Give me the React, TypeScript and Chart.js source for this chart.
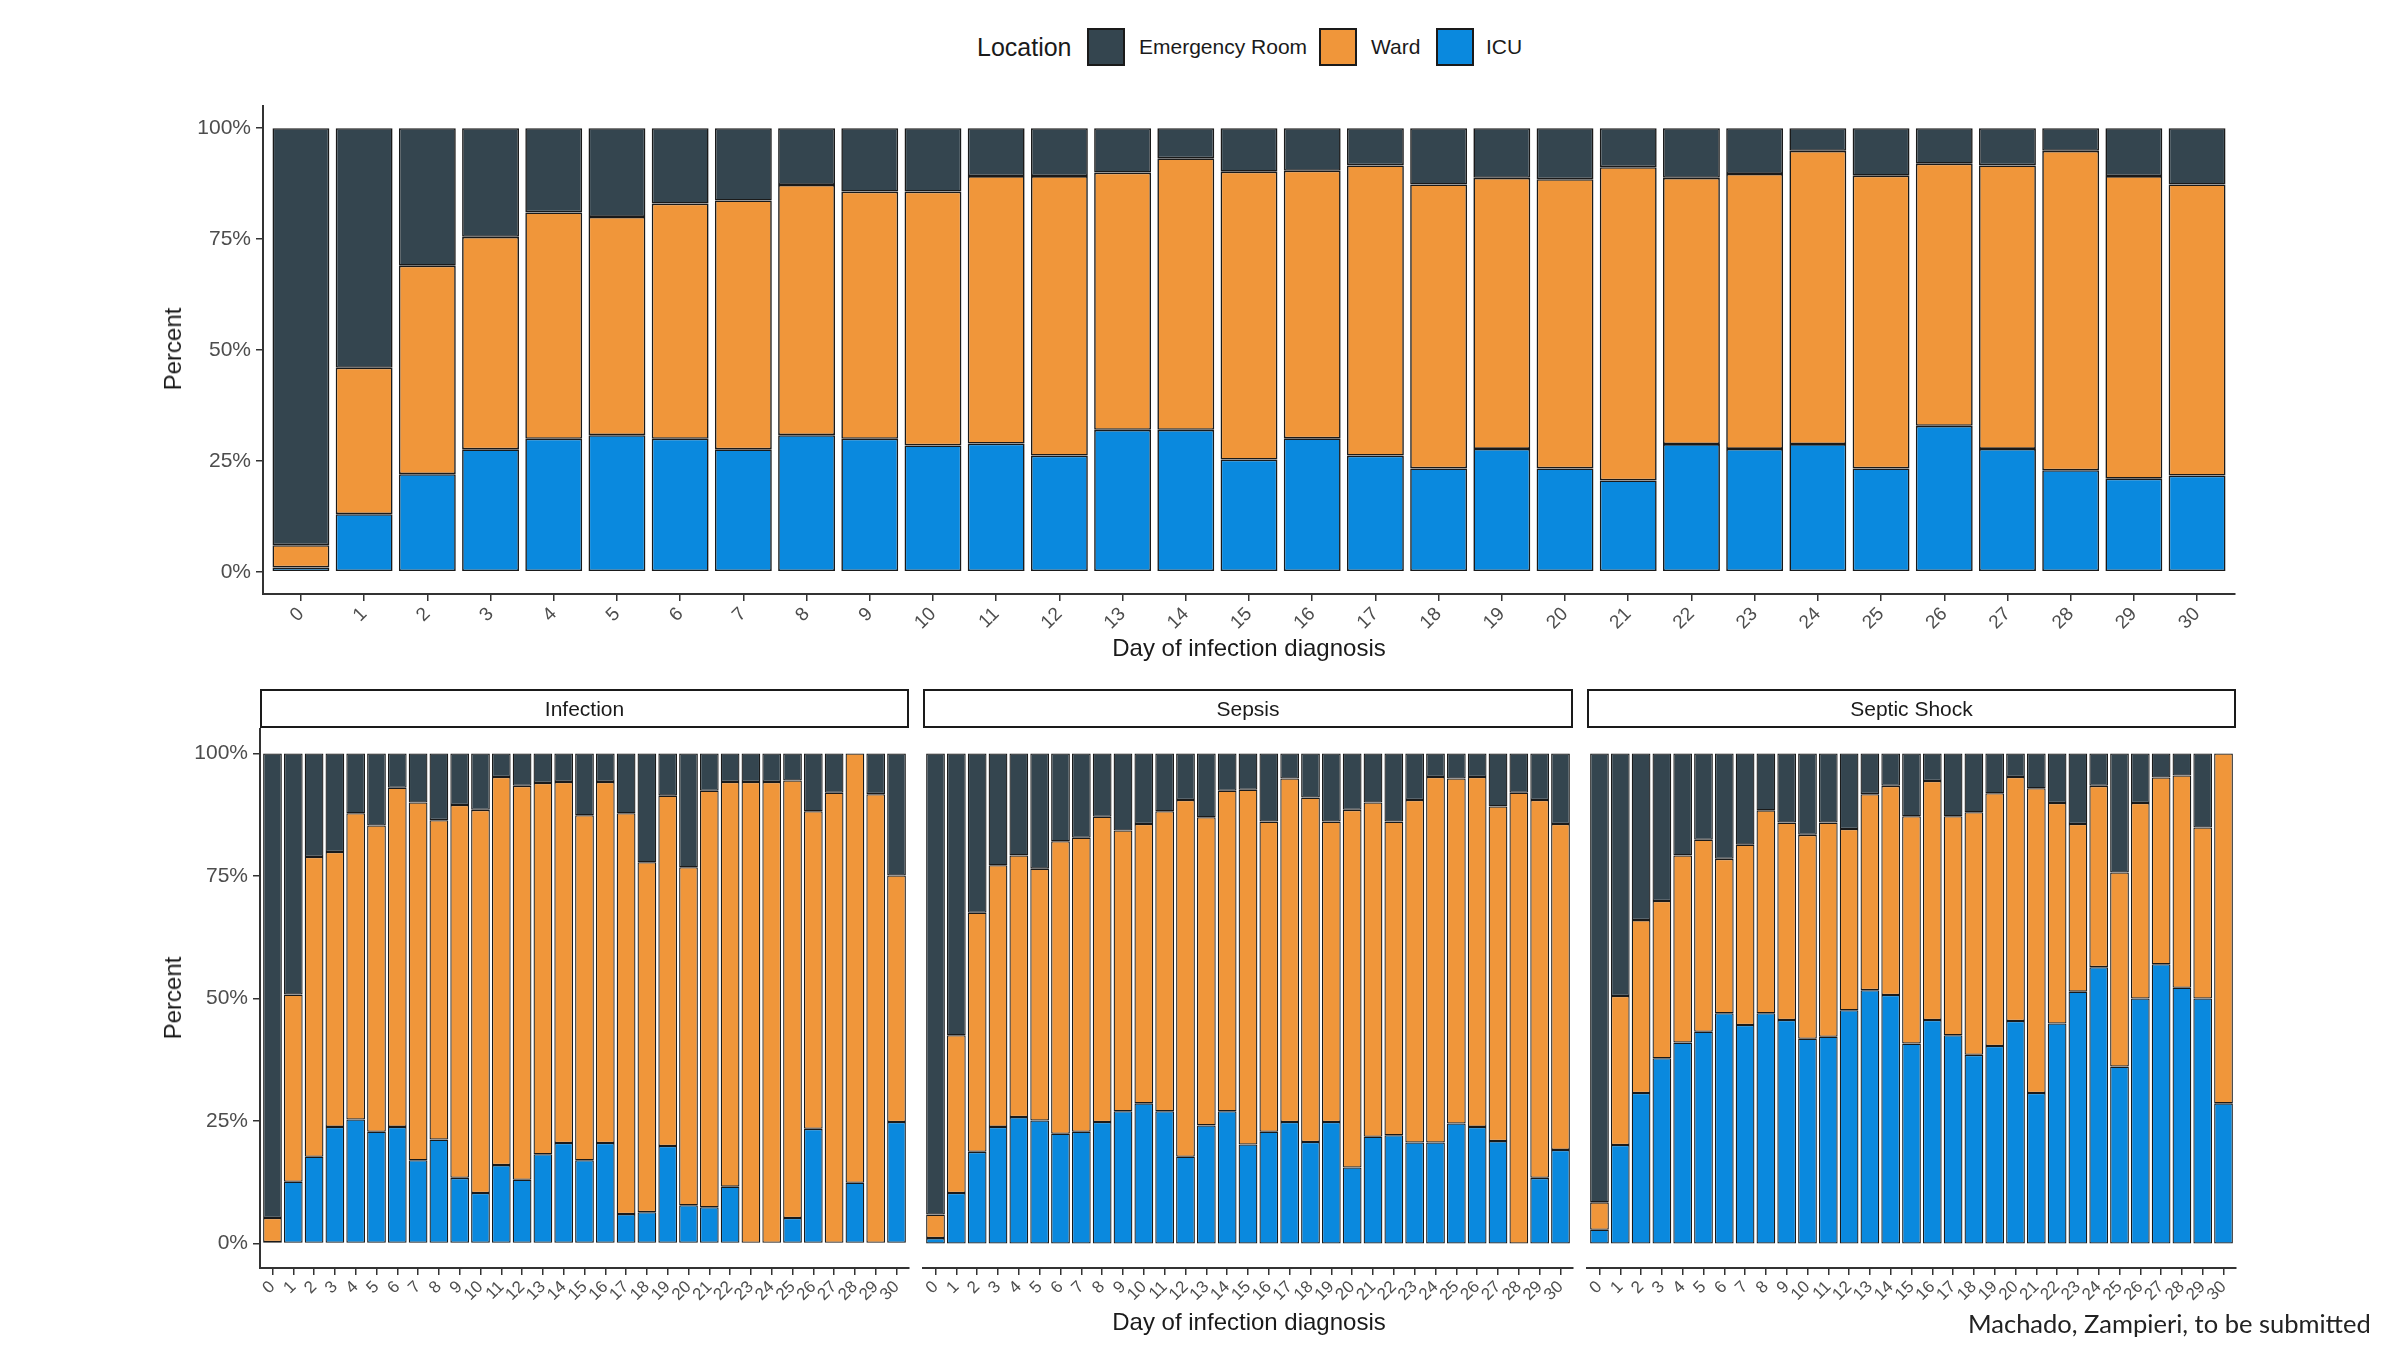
import React, { useEffect, useRef } from "react";
import { Chart, registerables } from "chart.js";

Chart.register(...registerables);

// ---------- DATA ----------
const DAYS = [0, 1, 2, 3, 4, 5, 6, 7, 8, 9, 10, 11, 12, 13, 14, 15, 16, 17, 18, 19, 20, 21, 22, 23, 24, 25, 26, 27, 28, 29, 30];
const Y_TICKS = [0, 25, 50, 75, 100];
const LOCATIONS = ["Emergency Room", "Ward", "ICU"];
const PANELS = ["Infection", "Sepsis", "Septic Shock"];

// Overall (top chart), percent of patients per location
const ALL_ICU = [1, 13, 22, 27.6, 30, 30.8, 30, 27.6, 30.8, 30, 28.5, 28.9, 26.2, 32, 32, 25.3, 30.1, 26.2, 23.3, 27.7, 23.3, 20.6, 28.8, 27.7, 28.8, 23.3, 32.9, 27.7, 22.9, 21, 21.7];
const ALL_WARD = [5, 33, 47, 47.9, 51, 49.2, 53, 56.1, 56.4, 55.7, 57.2, 60.3, 63, 58, 61.2, 64.9, 60.3, 65.4, 64, 61.1, 65.2, 70.6, 60, 62, 66.1, 66, 59.1, 63.9, 72, 68.2, 65.6];
const ALL_ER = [94, 54, 31, 24.5, 19, 20, 17, 16.3, 12.8, 14.3, 14.3, 10.8, 10.8, 10, 6.8, 9.8, 9.6, 8.4, 12.7, 11.2, 11.5, 8.8, 11.2, 10.3, 5.1, 10.7, 8, 8.4, 5.1, 10.8, 12.7];

// Infection
const INF_ICU = [0.3, 12.6, 17.7, 23.8, 25.3, 22.8, 23.8, 17, 21.2, 13.4, 10.3, 16, 13, 18.2, 20.5, 17, 20.5, 6, 6.4, 19.9, 7.8, 7.4, 11.6, 0, 0, 5.2, 23.4, 0, 12.4, 0, 24.8];
const INF_WARD = [4.9, 38.2, 61.2, 56.1, 62.5, 62.5, 69.2, 73, 65.2, 76.1, 78.2, 79.2, 80.4, 75.8, 73.7, 70.4, 73.7, 81.8, 71.4, 71.5, 69, 85, 82.6, 94.2, 94.2, 89.3, 64.8, 92, 87.6, 91.7, 50.3];
const INF_ER = [94.8, 49.2, 21.1, 20.1, 12.2, 14.7, 7, 10, 13.6, 10.5, 11.5, 4.8, 6.6, 6, 5.8, 12.6, 5.8, 12.2, 22.2, 8.6, 23.2, 7.6, 5.8, 5.8, 5.8, 5.5, 11.8, 8, 0, 8.3, 24.9];

// Sepsis
const SEP_ICU = [1.1, 10.3, 18.7, 23.8, 25.8, 25.1, 22.4, 22.8, 24.8, 27, 28.6, 27, 17.7, 24.1, 27, 20.2, 22.8, 24.8, 20.7, 24.8, 15.5, 21.8, 22.1, 20.6, 20.6, 24.5, 23.8, 20.9, 0, 13.4, 19.1];
const SEP_WARD = [4.8, 32.2, 48.8, 53.4, 53.4, 51.4, 59.7, 60, 62.3, 57.3, 57, 61.2, 72.8, 62.9, 65.4, 72.4, 63.3, 70.1, 70.3, 61.3, 73, 68.2, 64, 69.9, 74.6, 70.4, 71.4, 68.3, 92, 77.1, 66.5];
const SEP_ER = [94.1, 57.5, 32.5, 22.8, 20.8, 23.5, 17.9, 17.2, 12.9, 15.7, 14.4, 11.8, 9.5, 13, 7.6, 7.4, 13.9, 5.1, 9, 13.9, 11.5, 10, 13.9, 9.5, 4.8, 5.1, 4.8, 10.8, 8, 9.5, 14.4];

// Septic Shock
const SHK_ICU = [2.8, 20.1, 30.7, 37.8, 41, 43.2, 47, 44.6, 47, 45.6, 41.8, 42.2, 47.6, 51.7, 50.7, 40.8, 45.6, 42.5, 38.5, 40.3, 45.4, 30.7, 44.9, 51.4, 56.4, 36.1, 50, 57, 52.2, 50, 28.6];
const SHK_WARD = [5.6, 30.4, 35.3, 32.1, 38.2, 39.2, 31.5, 36.8, 41.4, 40.3, 41.6, 43.7, 37, 40, 42.7, 46.4, 48.8, 44.7, 49.5, 51.6, 49.8, 62.2, 45, 34.2, 37, 39.6, 39.9, 38.1, 43.3, 34.9, 71.4];
const SHK_ER = [91.6, 49.5, 34, 30.1, 20.8, 17.6, 21.5, 18.6, 11.6, 14.1, 16.6, 14.1, 15.4, 8.3, 6.6, 12.8, 5.6, 12.8, 12, 8.1, 4.8, 7.1, 10.1, 14.4, 6.6, 24.3, 10.1, 4.9, 4.5, 15.1, 0];

// ---------- STYLE ----------
const FONT = "'Liberation Sans', Arial, Helvetica, sans-serif";
const C_ER = "#34454f";
const C_WARD = "#f0963a";
const C_ICU = "#0a89de";
const BORDER = "#1a1a1a";
const AXIS = "#333333";
const TICK_TXT = "#4d4d4d";

Chart.defaults.font.family = FONT;

type PanelProps = {
  icu: number[];
  ward: number[];
  er: number[];
  left: number;
  top: number;
  width: number;
  height: number;
  showY: boolean;
  yWidth: number;
  xHeight: number;
  padLeft: number;
  padRight: number;
  padTop: number;
  barBorder: number;
  xFont: number;
};

function StackedPanel(p: PanelProps) {
  const ref = useRef<HTMLCanvasElement | null>(null);
  useEffect(() => {
    if (!ref.current) return;
    const mk = (vals: number[]) => DAYS.map((d, i) => ({ x: d, y: vals[i] }));
    const chart = new Chart(ref.current, {
      type: "bar",
      data: {
        datasets: [
          { label: LOCATIONS[2], data: mk(p.icu), backgroundColor: C_ICU },
          { label: LOCATIONS[1], data: mk(p.ward), backgroundColor: C_WARD },
          { label: LOCATIONS[0], data: mk(p.er), backgroundColor: C_ER },
        ],
      },
      options: {
        animation: false,
        responsive: false,
        devicePixelRatio: 1,
        events: [],
        layout: { padding: { left: p.padLeft, right: p.padRight, top: p.padTop, bottom: 0 } },
        plugins: { legend: { display: false }, tooltip: { enabled: false } },
        datasets: {
          bar: {
            categoryPercentage: 1,
            barPercentage: 0.9,
            borderSkipped: false,
            borderWidth: p.barBorder,
            borderColor: BORDER,
          },
        },
        scales: {
          x: {
            type: "linear",
            stacked: true,
            offset: false,
            min: -0.6,
            max: 30.6,
            afterBuildTicks: (s: any) => {
              s.ticks = DAYS.map((v) => ({ value: v }));
            },
            afterFit: (s: any) => {
              s.height = p.xHeight;
            },
            grid: { display: true, offset: false, drawOnChartArea: false, drawTicks: true, tickLength: 7, color: AXIS, lineWidth: 1.5 },
            border: { display: true, color: AXIS, width: 2 },
            ticks: {
              autoSkip: false,
              minRotation: 45,
              maxRotation: 45,
              padding: 2,
              color: TICK_TXT,
              font: { size: p.xFont },
              callback: (v: any) => String(v),
            },
          },
          y: {
            type: "linear",
            stacked: true,
            min: -5,
            max: 105,
            display: p.showY,
            afterBuildTicks: (s: any) => {
              s.ticks = Y_TICKS.map((v) => ({ value: v }));
            },
            afterFit: (s: any) => {
              s.width = p.yWidth;
            },
            grid: { display: true, drawOnChartArea: false, drawTicks: true, tickLength: 7, color: AXIS, lineWidth: 1.5 },
            border: { display: true, color: AXIS, width: 2 },
            ticks: {
              padding: 5,
              color: TICK_TXT,
              font: { size: 21 },
              callback: (v: any) => `${v}%`,
            },
          },
        },
      } as any,
    });
    return () => chart.destroy();
  }, []);
  return (
    <canvas
      ref={ref}
      width={p.width}
      height={p.height}
      style={{ position: "absolute", left: p.left, top: p.top, width: p.width, height: p.height }}
    />
  );
}

const abs = (s: React.CSSProperties): React.CSSProperties => ({ position: "absolute", whiteSpace: "nowrap", ...s });

function Swatch({ left, color }: { left: number; color: string }) {
  return (
    <div
      style={abs({
        left,
        top: 28,
        width: 38,
        height: 38,
        background: color,
        border: `2px solid ${BORDER}`,
        boxSizing: "border-box",
      })}
    />
  );
}

export default function App() {
  useEffect(() => {
    document.body.style.margin = "0";
  }, []);

  const titleStyle: React.CSSProperties = { fontSize: 24, color: "#1a1a1a", fontFamily: FONT, lineHeight: "28px" };
  const stripGeom = [
    { left: 260, width: 649 },
    { left: 923, width: 650 },
    { left: 1587, width: 649 },
  ];

  return (
    <div style={{ position: "relative", width: 2400, height: 1350, background: "#ffffff", overflow: "hidden", fontFamily: FONT }}>
      {/* Legend */}
      <div style={abs({ left: 977, top: 32, fontSize: 25, color: "#1a1a1a", lineHeight: "30px" })}>Location</div>
      <Swatch left={1087} color={C_ER} />
      <div style={abs({ left: 1139, top: 34, fontSize: 21, color: "#1a1a1a", lineHeight: "26px" })}>{LOCATIONS[0]}</div>
      <Swatch left={1319} color={C_WARD} />
      <div style={abs({ left: 1371, top: 34, fontSize: 21, color: "#1a1a1a", lineHeight: "26px" })}>{LOCATIONS[1]}</div>
      <Swatch left={1436} color={C_ICU} />
      <div style={abs({ left: 1486, top: 34, fontSize: 21, color: "#1a1a1a", lineHeight: "26px" })}>{LOCATIONS[2]}</div>

      {/* Top chart */}
      <StackedPanel
        icu={ALL_ICU}
        ward={ALL_WARD}
        er={ALL_ER}
        left={140}
        top={82}
        width={2110}
        height={614}
        showY={true}
        yWidth={123}
        xHeight={102}
        padLeft={0}
        padRight={15}
        padTop={24}
        barBorder={1.6}
        xFont={19}
      />
      <div style={abs({ ...titleStyle, left: 173, top: 349, transform: "translate(-50%, -50%) rotate(-90deg)" })}>Percent</div>
      <div style={abs({ ...titleStyle, left: 1249, top: 648, transform: "translate(-50%, -50%)" })}>Day of infection diagnosis</div>

      {/* Facet strips */}
      {PANELS.map((name, i) => (
        <div
          key={name}
          style={abs({
            left: stripGeom[i].left,
            top: 689,
            width: stripGeom[i].width,
            height: 39,
            border: `2px solid ${BORDER}`,
            boxSizing: "border-box",
            display: "flex",
            alignItems: "center",
            justifyContent: "center",
            fontSize: 21,
            color: "#1a1a1a",
          })}
        >
          {name}
        </div>
      ))}

      {/* Bottom panels */}
      <StackedPanel
        icu={INF_ICU}
        ward={INF_WARD}
        er={INF_ER}
        left={140}
        top={705}
        width={779}
        height={634}
        showY={true}
        yWidth={120}
        xHeight={71}
        padLeft={0}
        padRight={10}
        padTop={24}
        barBorder={1.3}
        xFont={17}
      />
      <StackedPanel
        icu={SEP_ICU}
        ward={SEP_WARD}
        er={SEP_ER}
        left={913}
        top={705}
        width={670}
        height={634}
        showY={false}
        yWidth={0}
        xHeight={71}
        padLeft={10}
        padRight={10}
        padTop={24}
        barBorder={1.3}
        xFont={17}
      />
      <StackedPanel
        icu={SHK_ICU}
        ward={SHK_WARD}
        er={SHK_ER}
        left={1577}
        top={705}
        width={669}
        height={634}
        showY={false}
        yWidth={0}
        xHeight={71}
        padLeft={10}
        padRight={10}
        padTop={24}
        barBorder={1.3}
        xFont={17}
      />
      <div style={abs({ ...titleStyle, left: 173, top: 998, transform: "translate(-50%, -50%) rotate(-90deg)" })}>Percent</div>
      <div style={abs({ ...titleStyle, left: 1249, top: 1322, transform: "translate(-50%, -50%)" })}>Day of infection diagnosis</div>

      {/* Footer */}
      <div style={abs({ left: 1968, top: 1308, fontSize: 25.5, fontFamily: "Lato, 'Open Sans', sans-serif", color: "#222", lineHeight: "30px" })}>
        Machado, Zampieri, to be submitted
      </div>
    </div>
  );
}
